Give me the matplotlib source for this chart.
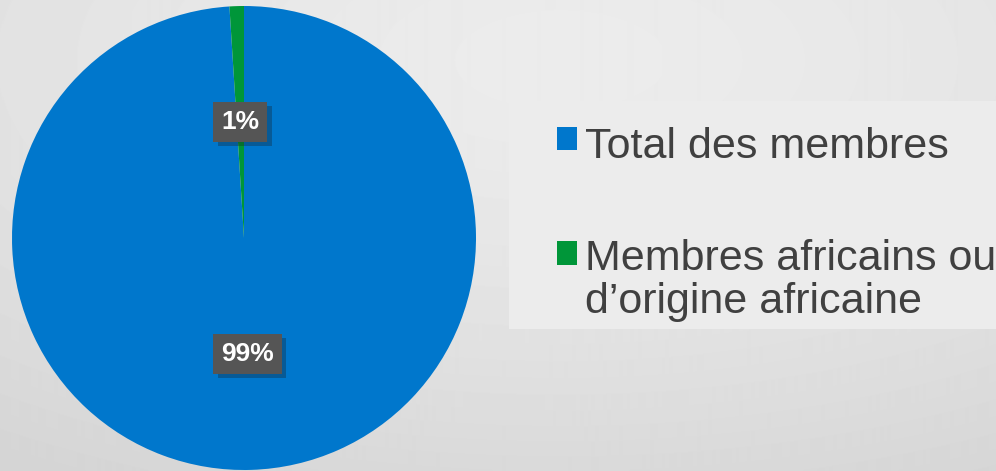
import matplotlib
matplotlib.use("Agg")
import matplotlib.pyplot as plt
import matplotlib.patheffects as pe
from matplotlib.patches import Patch, Rectangle
from matplotlib.legend_handler import HandlerPatch
import numpy as np

# data
categories = ["Total des membres", "Membres africains ou\nd\u2019origine africaine"]
values = [99, 1]
colors = ["#0077cc", "#009639"]

plt.rcParams['font.family'] = ['Liberation Sans', 'DejaVu Sans']

fig = plt.figure(figsize=(9.96, 4.71), dpi=100)

# fond degrade
bg = fig.add_axes([0, 0, 1, 1])
yy, xx = np.mgrid[0:471, 0:996]
d = np.sqrt(((xx - 560) / 996.0) ** 2 + ((yy - 60) / 471.0) ** 2)
shade = 0.925 - 0.09 * np.clip(d / 1.0, 0, 1) ** 1.5
bg.imshow(shade, cmap="gray", vmin=0, vmax=1, aspect="auto", extent=[0, 1, 0, 1], origin="upper")
# cadre de la legende
bg.add_patch(Rectangle((509 / 996, 1 - 329 / 471), 487 / 996, 228 / 471,
                       facecolor="#ececec", edgecolor="none"))
bg.set_xlim(0, 1)
bg.set_ylim(0, 1)
bg.axis("off")

ax = fig.add_axes([12 / 996, 1 / 471, 464 / 996, 464 / 471])
wedges, texts, autotexts = ax.pie(values, colors=colors, startangle=90, counterclock=False,
                                  radius=1, autopct="%1.0f%%", pctdistance=0.5,
                                  wedgeprops=dict(linewidth=0))
for t in autotexts:
    t.set_color("white")
    t.set_fontsize(19)
    t.set_fontweight("bold")
    t.set_bbox(dict(boxstyle="square,pad=0.3", facecolor="#555555", edgecolor="none"))
    t.get_bbox_patch().set_path_effects([pe.SimplePatchShadow(offset=(3, -3), alpha=0.3), pe.Normal()])
ax.set_xlim(-1, 1)
ax.set_ylim(-1, 1)
ax.set_aspect("equal")
ax.axis("off")


# carre de legende cale sur la premiere ligne du texte
def make_square(nlines):
    def patch_func(legend, orig_handle, xdescent, ydescent, width, height, fontsize):
        shift = 0.1 * fontsize + (nlines - 1) * 0.55 * fontsize
        return Rectangle((-xdescent, -ydescent + shift), width, height)
    return HandlerPatch(patch_func=patch_func)


handles = [Patch(facecolor=c, edgecolor="none") for c in colors]
hmap = {h: make_square(lab.count("\n") + 1) for h, lab in zip(handles, categories)}
leg = fig.legend(handles, categories, loc="upper left", bbox_to_anchor=(557 / 996, 1 - 127 / 471),
                 fontsize=31, frameon=False, handlelength=0.46, handleheight=0.46,
                 handletextpad=0.2, labelspacing=1.68, borderpad=0, borderaxespad=0,
                 handler_map=hmap)
for t in leg.get_texts():
    t.set_color("#404040")
    t.set_linespacing(1.1)

fig.savefig("out.png", dpi=100)
